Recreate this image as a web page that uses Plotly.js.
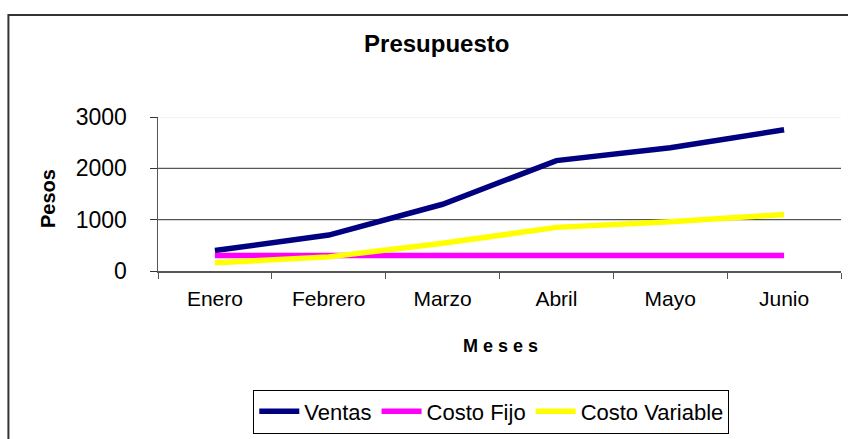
<!DOCTYPE html>
<html>
<head>
<meta charset="utf-8">
<script src="https://cdn.plot.ly/plotly-3.0.1.min.js"></script>
<style>html,body{margin:0;padding:0;background:#fff;}#chart{width:848px;height:439px;}</style>
</head>
<body>
<div id="chart"></div>
<script>
var meses = ["Enero", "Febrero", "Marzo", "Abril", "Mayo", "Junio"];
var ventas = [400, 700, 1300, 2150, 2400, 2750];
var costoFijo = [300, 300, 300, 300, 300, 300];
var costoVariable = [160, 275, 540, 850, 960, 1100];
var yTicks = [0, 1000, 2000, 3000];

var fontMain = "Liberation Sans, Arial, sans-serif";

var traces = [
  {x: meses, y: ventas, name: "Ventas", type: "scatter", mode: "lines", line: {color: "#000080", width: 5.5}},
  {x: meses, y: costoFijo, name: "Costo Fijo", type: "scatter", mode: "lines", line: {color: "#FF00FF", width: 5.5}},
  {x: meses, y: costoVariable, name: "Costo Variable", type: "scatter", mode: "lines", line: {color: "#FFFF00", width: 5.5}}
];

var layout = {
  width: 848, height: 439,
  margin: {l: 158, r: 7, t: 117, b: 167},
  paper_bgcolor: "#ffffff", plot_bgcolor: "#ffffff",
  showlegend: true,
  title: {text: "<b>Presupuesto</b>", font: {family: fontMain, size: 24, color: "#000"}, x: 0.515, xref: "container", xanchor: "center", y: 0.9, yref: "container", yanchor: "middle"},
  xaxis: {
    type: "category", range: [-0.5, 5.5],
    tickson: "boundaries", ticks: "outside", ticklen: 6, tickcolor: "#555", tickwidth: 1,
    showline: true, linecolor: "#555", linewidth: 1.5,
    showgrid: false, zeroline: false,
    ticklabelstandoff: 8,
    tickfont: {family: fontMain, size: 21, color: "#000"}
  },
  yaxis: {
    range: [0, 3000], tickvals: yTicks, ticktext: yTicks.map(String),
    ticks: "outside", ticklen: 7, tickcolor: "#333", tickwidth: 1,
    showline: true, linecolor: "#555", linewidth: 1.5,
    showgrid: false, zeroline: false,
    ticklabelstandoff: 18,
    tickfont: {family: fontMain, size: 23, color: "#000"}
  },
  legend: {
    orientation: "h", x: 0.488, xanchor: "center", y: -0.9, yanchor: "middle",
    bordercolor: "#000", borderwidth: 1, bgcolor: "#fff",
    font: {family: fontMain, size: 22, color: "#000"},
    itemwidth: 40, tracegroupgap: 0
  },
  annotations: [
    {text: "<b>Pesos</b>", xref: "paper", yref: "paper", x: -0.16, y: 0.472, xanchor: "center", yanchor: "middle", textangle: -90, showarrow: false, font: {family: fontMain, size: 20, color: "#000"}},
    {text: "<b>M e s e s</b>", xref: "paper", yref: "paper", x: 0.501, y: -0.49, xanchor: "center", yanchor: "middle", showarrow: false, font: {family: fontMain, size: 18, color: "#000"}}
  ],
  shapes: [
    {type: "line", xref: "paper", yref: "y", x0: 0, x1: 1, y0: 1000, y1: 1000, line: {color: "#555", width: 1.2}, layer: "below"},
    {type: "line", xref: "paper", yref: "y", x0: 0, x1: 1, y0: 2000, y1: 2000, line: {color: "#555", width: 1.2}, layer: "below"},
    {type: "line", xref: "paper", yref: "y", x0: 0, x1: 1, y0: 3000, y1: 3000, line: {color: "#e6e6e6", width: 1}, layer: "below"},
    {type: "rect", xref: "paper", yref: "paper", x0: -0.219, x1: 1.03, y0: -1.25, y1: 1.663, line: {color: "#333", width: 2}, fillcolor: "rgba(0,0,0,0)"}
  ]
};

Plotly.newPlot("chart", traces, layout, {displayModeBar: false, staticPlot: true});
</script>
</body>
</html>
